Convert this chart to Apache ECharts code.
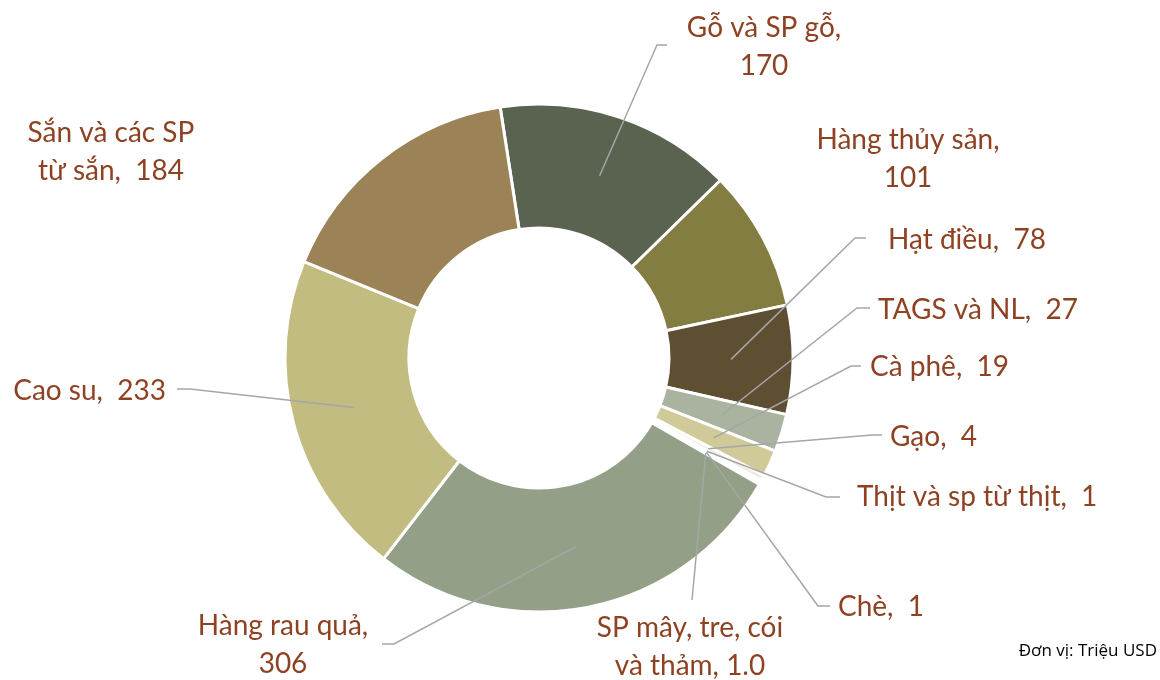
<!DOCTYPE html>
<html>
<head>
<meta charset="utf-8">
<script src="https://cdn.jsdelivr.net/npm/echarts@6/dist/echarts.min.js"></script>
<style>
  html, body { margin: 0; padding: 0; background: #fff; }
  #chart { width: 1160px; height: 680px; }
</style>
</head>
<body>
<div id="chart"></div>
<script>
// data (Triệu USD)
const categories = ['Gỗ và SP gỗ', 'Hàng thủy sản', 'Hạt điều', 'TAGS và NL', 'Cà phê', 'Gạo',
    'Thịt và sp từ thịt', 'Chè', 'SP mây, tre, cói và thảm', 'Hàng rau quả', 'Cao su', 'Sắn và các SP từ sắn'];
const values = [170, 101, 78, 27, 19, 4, 1, 1, 1.0, 306, 233, 184];
const colors = ['#59634f', '#837d42', '#5e4f33', '#a9b39f', '#cfca98', '#efeadb',
    '#a0723c', '#6f7b5c', '#b9b28a', '#949f88', '#c2bc80', '#9c8357'];
const unitText = 'Đơn vị: Triệu USD';

const CX = 539, CY = 358;
const R_IN = 130, R_OUT = 254;
const R_MID = (R_IN + R_OUT) / 2;
const START = -8.8; // degrees clockwise from 12 o'clock

// label placement: anchor, text align, separator, optional leader elbow + end
const labelPos = [
    { x: 764, y: 47, align: 'center', sep: ',\n', line: [[657, 45], [667, 45]] },
    { x: 908, y: 159, align: 'center', sep: ',\n' },
    { x: 888, y: 240, align: 'left', sep: ',  ', line: [[855, 238], [866, 238]] },
    { x: 878, y: 310, align: 'left', sep: ',  ', line: [[857, 308], [870, 308]] },
    { x: 870, y: 367, align: 'left', sep: ',  ', line: [[851, 366], [861, 366]] },
    { x: 890, y: 437, align: 'left', sep: ',  ', line: [[872, 435], [882, 435]] },
    { x: 857, y: 497, align: 'left', sep: ',  ', line: [[826, 497], [840, 497]] },
    { x: 838, y: 607, align: 'left', sep: ',  ', line: [[818, 606], [830, 606]] },
    { x: 690, y: 647, align: 'center', sep: ', ', wrapBefore: 'và thảm', decimals: 1, line: [[692, 600], [692, 600]] },
    { x: 283, y: 645, align: 'center', sep: ',\n', line: [[394, 644], [382, 644]] },
    { x: 166, y: 391, align: 'right', sep: ',  ', line: [[190, 389], [177, 389]] },
    { x: 111, y: 152, align: 'center', sep: ',  ', wrapBefore: 'từ sắn' }
];

const total = values.reduce((a, b) => a + b, 0);

function anchorPoint(i) {
    let before = 0;
    for (let k = 0; k < i; k++) before += values[k];
    const ang = (START + 360 * (before + values[i] / 2) / total) * Math.PI / 180;
    return [CX + R_MID * Math.sin(ang), CY - R_MID * Math.cos(ang)];
}

function labelText(i) {
    const L = labelPos[i];
    let name = categories[i];
    if (L.wrapBefore) name = name.replace(' ' + L.wrapBefore, '\n' + L.wrapBefore);
    const v = L.decimals ? values[i].toFixed(L.decimals) : String(values[i]);
    return name + L.sep + v;
}

const chart = echarts.init(document.getElementById('chart'));

const pieData = categories.map((name, i) => ({ name: name, value: values[i] }));

chart.setOption({
    backgroundColor: '#ffffff',
    animation: false,
    graphic: [{
        type: 'text',
        right: 3,
        top: 643,
        style: {
            text: unitText,
            fill: '#000000',
            font: '17px "Open Sans"'
        }
    }],
    series: [
        {
            // visible donut
            type: 'pie',
            z: 2,
            center: [CX, CY],
            radius: [R_IN, R_OUT],
            startAngle: 90 - START,
            clockwise: true,
            silent: true,
            itemStyle: {
                borderColor: '#ffffff',
                borderWidth: 3
            },
            label: { show: false },
            labelLine: { show: false },
            data: pieData.map((d, i) => ({ name: d.name, value: d.value, itemStyle: { color: colors[i] } }))
        },
        {
            // transparent ring ending mid-band: hosts labels so leaders start inside the slices
            type: 'pie',
            z: 5,
            center: [CX, CY],
            radius: [R_IN, R_MID],
            startAngle: 90 - START,
            clockwise: true,
            silent: true,
            avoidLabelOverlap: false,
            itemStyle: { color: 'rgba(0,0,0,0)', borderWidth: 0 },
            label: {
                show: true,
                position: 'outside',
                color: '#8e4222',
                fontFamily: 'Lato',
                fontSize: 28,
                lineHeight: 38,
                overflow: 'none',
                formatter: p => labelText(p.dataIndex)
            },
            labelLine: {
                show: true,
                length: 10,
                length2: 10,
                lineStyle: { color: '#a6a6a6', width: 1.5 }
            },
            labelLayout: function (p) {
                const L = labelPos[p.dataIndex];
                const res = { x: L.x, y: L.y, align: L.align, verticalAlign: 'middle' };
                if (L.line) {
                    res.labelLinePoints = [anchorPoint(p.dataIndex), L.line[0], L.line[1]];
                }
                return res;
            },
            data: pieData.map((d, i) => ({
                name: d.name,
                value: d.value,
                labelLine: { show: !!labelPos[i].line }
            }))
        }
    ]
});
</script>
</body>
</html>
